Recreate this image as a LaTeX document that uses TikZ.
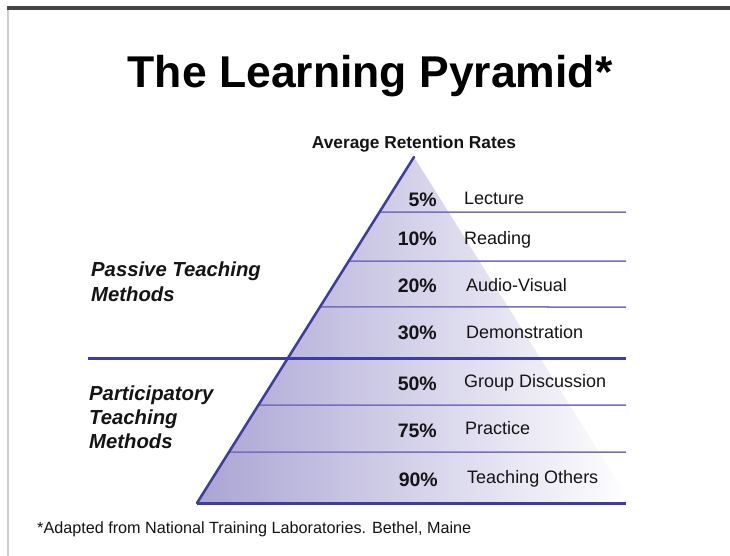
\documentclass[tikz,border=0pt]{standalone}
\usepackage{fontspec}
\setmainfont{Liberation Sans}
\usetikzlibrary{calc}
\definecolor{edgeblue}{RGB}{62,60,160}
\definecolor{thinblue}{RGB}{118,112,188}
\definecolor{fillpurple}{RGB}{170,164,212}
\definecolor{topbar}{RGB}{70,70,70}
\definecolor{sideline}{RGB}{205,205,205}
\definecolor{txt}{RGB}{20,20,20}
\tikzset{
  pct/.style={anchor=base east, inner sep=0pt, text=txt, font=\fontsize{19.5}{22}\selectfont\bfseries},
  lbl/.style={anchor=base west, inner sep=0pt, text=txt, font=\fontsize{18}{21}\selectfont},
  side/.style={anchor=base west, inner sep=0pt, text=txt, font=\fontsize{20.3}{24}\selectfont\bfseries\itshape},
  thinline/.style={draw=thinblue, line width=1.5pt},
  thickline/.style={draw=edgeblue, line width=3pt},
}
\begin{document}
\begin{tikzpicture}[x=1pt,y=-1pt]
\useasboundingbox (0,0) rectangle (730,556);
\fill[white] (0,0) rectangle (730,556);
% frame
\fill[topbar] (7,6) rectangle (730,10.5);
\fill[sideline] (7,10.5) rectangle (9,556);
% pyramid
\coordinate (apex) at (414,157);
\coordinate (bl) at (197,503);
\coordinate (br) at (631,503);
\shade[left color=fillpurple, right color=white] (apex) -- (bl) -- (br) -- cycle;
% row lines
\coordinate (r1) at (626,212);
\coordinate (r2) at (626,261);
\coordinate (r3) at (626,307);
\coordinate (r4) at (626,358);
\coordinate (r4l) at (88,358);
\coordinate (r5) at (626,405);
\coordinate (r6) at (626,452);
\coordinate (r7) at (626,503);
\draw[thinline] ($(apex)!0.1590!(bl)$) -- (r1);
\draw[thinline] ($(apex)!0.3006!(bl)$) -- (r2);
\draw[thinline] ($(apex)!0.4335!(bl)$) -- (r3);
\draw[thinline] ($(apex)!0.7168!(bl)$) -- (r5);
\draw[thinline] ($(apex)!0.8526!(bl)$) -- (r6);
\draw[thickline] (r4l) -- (r4);
\draw[thickline] (bl) -- (r7);
\draw[draw=edgeblue, line width=2.5pt, line cap=round] (apex) -- (bl);
% texts
\node[anchor=base, inner sep=0pt, text=black, font=\fontsize{44.5}{50}\selectfont\bfseries] (title) at (370,88) {The Learning Pyramid*};
\node[anchor=base, inner sep=0pt, text=txt, font=\fontsize{17.3}{20}\selectfont\bfseries] (avg) at (414,148.5) {Average Retention Rates};
\node[pct] (p1) at (437,206.5) {5\%};
\node[pct] (p2) at (437,245) {10\%};
\node[pct] (p3) at (437,292) {20\%};
\node[pct] (p4) at (437,339) {30\%};
\node[pct] (p5) at (437,390) {50\%};
\node[pct] (p6) at (437,437.5) {75\%};
\node[pct] (p7) at (438,486.5) {90\%};
\node[lbl] (l1) at (464,204.5) {Lecture};
\node[lbl] (l2) at (464,244) {Reading};
\node[lbl] (l3) at (466,291) {Audio-Visual};
\node[lbl] (l4) at (466,338) {Demonstration};
\node[lbl] (l5) at (464,387) {Group Discussion};
\node[lbl] (l6) at (465,434) {Practice};
\node[lbl] (l7) at (467,483.5) {Teaching Others};
\node[side] (pa1) at (91,276.7) {Passive Teaching};
\node[side] (pa2) at (91,301.7) {Methods};
\node[side] (pb1) at (89,400) {Participatory};
\node[side] (pb2) at (89,424.5) {Teaching};
\node[side] (pb3) at (89,448.5) {Methods};
\node[anchor=base west, inner sep=0pt, text=txt, font=\fontsize{16.2}{18}\selectfont] (foot) at (37,533) {*Adapted from National Training Laboratories. Bethel, Maine};
\end{tikzpicture}
\end{document}
